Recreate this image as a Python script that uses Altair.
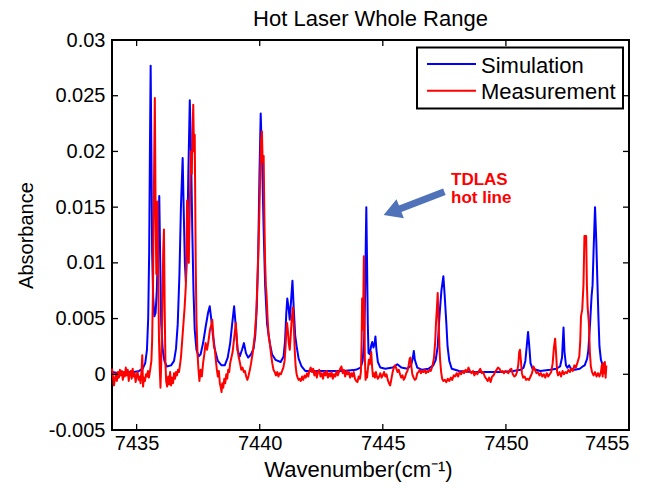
import altair as alt
import pandas as pd

# ---------------------------------------------------------------- data
# (wavenumber in cm^-1, absorbance)
sim_points = [
    (7434.00, 0.0002), (7434.30, 0.0001), (7434.60, 0.0002), (7434.90, 0.0002),
    (7435.10, 0.0003), (7435.25, 0.0005), (7435.35, 0.0010), (7435.42, 0.0022),
    (7435.47, 0.0050), (7435.51, 0.0110), (7435.54, 0.0200), (7435.57, 0.0277),
    (7435.60, 0.0200), (7435.63, 0.0110), (7435.67, 0.0070), (7435.72, 0.0052),
    (7435.77, 0.0055), (7435.82, 0.0075), (7435.87, 0.0115), (7435.92, 0.0160),
    (7435.96, 0.0100), (7436.00, 0.0045), (7436.06, 0.0022), (7436.13, 0.0012),
    (7436.22, 0.0007), (7436.40, 0.0008), (7436.52, 0.0012), (7436.60, 0.0023),
    (7436.67, 0.0045), (7436.74, 0.0090), (7436.80, 0.0150), (7436.87, 0.0194),
    (7436.91, 0.0150), (7436.96, 0.0100), (7437.00, 0.0083), (7437.05, 0.0110),
    (7437.10, 0.0180), (7437.16, 0.0246), (7437.21, 0.0200), (7437.26, 0.0130),
    (7437.31, 0.0075), (7437.36, 0.0040), (7437.43, 0.0022), (7437.52, 0.0016),
    (7437.60, 0.0018), (7437.70, 0.0028), (7437.80, 0.0042), (7437.90, 0.0055),
    (7437.97, 0.0061), (7438.03, 0.0050), (7438.10, 0.0035), (7438.18, 0.0022),
    (7438.30, 0.0012), (7438.45, 0.0008), (7438.58, 0.0008), (7438.70, 0.0015),
    (7438.80, 0.0028), (7438.88, 0.0045), (7438.96, 0.0061), (7439.02, 0.0045),
    (7439.10, 0.0022), (7439.19, 0.0016), (7439.28, 0.0022), (7439.36, 0.0028),
    (7439.44, 0.0019), (7439.53, 0.0015), (7439.65, 0.0018), (7439.75, 0.0023),
    (7439.82, 0.0035), (7439.88, 0.0060), (7439.94, 0.0110), (7439.99, 0.0180),
    (7440.04, 0.0234), (7440.10, 0.0190), (7440.16, 0.0130), (7440.22, 0.0080),
    (7440.30, 0.0045), (7440.41, 0.0028), (7440.50, 0.0018), (7440.64, 0.0013),
    (7440.85, 0.0011), (7440.97, 0.0016), (7441.03, 0.0030), (7441.08, 0.0055),
    (7441.12, 0.0068), (7441.17, 0.0060), (7441.22, 0.0049), (7441.27, 0.0065),
    (7441.33, 0.0084), (7441.38, 0.0060), (7441.44, 0.0035), (7441.50, 0.0025),
    (7441.58, 0.0014), (7441.70, 0.0007), (7441.85, 0.0003), (7442.30, 0.0003),
    (7442.80, 0.0003), (7443.40, 0.0003), (7443.90, 0.0004), (7444.10, 0.0006),
    (7444.18, 0.0012), (7444.24, 0.0030), (7444.28, 0.0070), (7444.31, 0.0120),
    (7444.33, 0.0150), (7444.36, 0.0100), (7444.39, 0.0045), (7444.42, 0.0019),
    (7444.47, 0.0018), (7444.53, 0.0026), (7444.57, 0.0029), (7444.62, 0.0024),
    (7444.67, 0.0028), (7444.70, 0.0034), (7444.74, 0.0022), (7444.80, 0.0011),
    (7444.90, 0.0006), (7445.10, 0.0005), (7445.40, 0.0006), (7445.59, 0.0009),
    (7445.75, 0.0006), (7446.00, 0.0005), (7446.15, 0.0008), (7446.22, 0.0015),
    (7446.26, 0.0021), (7446.30, 0.0013), (7446.40, 0.0006), (7446.60, 0.0004),
    (7446.85, 0.0005), (7447.05, 0.0008), (7447.15, 0.0013), (7447.23, 0.0025),
    (7447.30, 0.0052), (7447.38, 0.0075), (7447.46, 0.0088), (7447.51, 0.0072),
    (7447.58, 0.0046), (7447.63, 0.0025), (7447.70, 0.0012), (7447.80, 0.0005),
    (7448.10, 0.0003), (7448.60, 0.0002), (7449.20, 0.0002), (7449.80, 0.0002),
    (7450.30, 0.0003), (7450.60, 0.0004), (7450.72, 0.0006), (7450.79, 0.0012),
    (7450.85, 0.0026), (7450.90, 0.0038), (7450.95, 0.0025), (7451.00, 0.0010),
    (7451.08, 0.0005), (7451.40, 0.0003), (7451.80, 0.0004), (7452.05, 0.0005),
    (7452.20, 0.0007), (7452.28, 0.0015), (7452.34, 0.0042), (7452.38, 0.0020),
    (7452.44, 0.0008), (7452.50, 0.0006), (7452.57, 0.0008), (7452.64, 0.0005),
    (7452.80, 0.0004), (7453.00, 0.0005), (7453.12, 0.0007), (7453.20, 0.0008),
    (7453.30, 0.0014), (7453.35, 0.0022), (7453.42, 0.0046), (7453.48, 0.0070),
    (7453.52, 0.0080), (7453.56, 0.0110), (7453.62, 0.0150), (7453.67, 0.0120),
    (7453.72, 0.0080), (7453.76, 0.0050), (7453.80, 0.0025), (7453.86, 0.0013),
    (7453.93, 0.0008), (7454.07, 0.0005),
]

meas_points = [
    (7434.00, 0.0005), (7434.04, -0.0002), (7434.08, -0.0010), (7434.12, -0.0004),
    (7434.16, 0.0001), (7434.20, -0.0006), (7434.24, 0.0002), (7434.28, -0.0003),
    (7434.32, 0.0004), (7434.36, -0.0001), (7434.40, 0.0003), (7434.44, -0.0005),
    (7434.48, 0.0002), (7434.52, -0.0002), (7434.56, 0.0006), (7434.60, -0.0001),
    (7434.64, 0.0004), (7434.68, -0.0006), (7434.72, 0.0001), (7434.76, 0.0003),
    (7434.80, -0.0004), (7434.84, 0.0005), (7434.88, -0.0002), (7434.92, 0.0001),
    (7434.96, -0.0007), (7435.00, -0.0001), (7435.04, 0.0002), (7435.08, -0.0005),
    (7435.12, -0.0002), (7435.16, -0.0008), (7435.20, 0.0004), (7435.23, 0.0017),
    (7435.26, -0.0011), (7435.30, -0.0003), (7435.34, -0.0006), (7435.38, 0.0000),
    (7435.42, -0.0002), (7435.46, 0.0003), (7435.50, -0.0003), (7435.55, 0.0004),
    (7435.60, 0.0012), (7435.63, 0.0030), (7435.66, 0.0070), (7435.70, 0.0160),
    (7435.74, 0.0248), (7435.77, 0.0150), (7435.80, 0.0090), (7435.83, 0.0120),
    (7435.85, 0.0155), (7435.88, 0.0080), (7435.91, 0.0030), (7435.94, 0.0005),
    (7435.97, -0.0012), (7436.00, 0.0010), (7436.04, 0.0050), (7436.08, 0.0110),
    (7436.11, 0.0130), (7436.14, 0.0060), (7436.17, 0.0010), (7436.20, -0.0006),
    (7436.24, -0.0011), (7436.28, -0.0002), (7436.32, -0.0009), (7436.36, 0.0002),
    (7436.40, -0.0010), (7436.44, -0.0003), (7436.48, -0.0008), (7436.52, 0.0001),
    (7436.56, -0.0004), (7436.60, 0.0002), (7436.64, -0.0001), (7436.68, 0.0004),
    (7436.72, 0.0002), (7436.76, 0.0008), (7436.80, 0.0015), (7436.85, 0.0030),
    (7436.90, 0.0045), (7436.95, 0.0060), (7437.00, 0.0080), (7437.03, 0.0120),
    (7437.05, 0.0156), (7437.08, 0.0120), (7437.12, 0.0100), (7437.16, 0.0150),
    (7437.20, 0.0200), (7437.24, 0.0180), (7437.27, 0.0215), (7437.30, 0.0242),
    (7437.33, 0.0200), (7437.36, 0.0215), (7437.38, 0.0160), (7437.40, 0.0100),
    (7437.43, 0.0050), (7437.47, 0.0020), (7437.51, 0.0005), (7437.55, -0.0006),
    (7437.60, 0.0004), (7437.65, -0.0002), (7437.70, 0.0010), (7437.75, 0.0018),
    (7437.80, 0.0028), (7437.86, 0.0022), (7437.92, 0.0030), (7437.98, 0.0040),
    (7438.04, 0.0045), (7438.07, 0.0049), (7438.10, 0.0040), (7438.14, 0.0025),
    (7438.18, 0.0022), (7438.22, 0.0012), (7438.26, 0.0004), (7438.30, -0.0002),
    (7438.34, 0.0003), (7438.38, -0.0008), (7438.42, -0.0012), (7438.45, -0.0016),
    (7438.48, -0.0008), (7438.52, -0.0012), (7438.56, -0.0004), (7438.60, -0.0008),
    (7438.64, 0.0000), (7438.68, -0.0004), (7438.72, 0.0004), (7438.76, 0.0002),
    (7438.80, 0.0010), (7438.85, 0.0015), (7438.90, 0.0020), (7438.95, 0.0030),
    (7439.00, 0.0040), (7439.03, 0.0046), (7439.06, 0.0035), (7439.10, 0.0022),
    (7439.15, 0.0015), (7439.20, 0.0010), (7439.25, 0.0004), (7439.30, 0.0006),
    (7439.35, 0.0002), (7439.40, 0.0003), (7439.45, -0.0002), (7439.50, -0.0005),
    (7439.55, -0.0001), (7439.60, 0.0004), (7439.65, 0.0010), (7439.72, 0.0020),
    (7439.80, 0.0035), (7439.86, 0.0055), (7439.92, 0.0090), (7439.97, 0.0130),
    (7440.01, 0.0170), (7440.05, 0.0209), (7440.09, 0.0218), (7440.12, 0.0190),
    (7440.16, 0.0196), (7440.19, 0.0140), (7440.22, 0.0100), (7440.25, 0.0080),
    (7440.28, 0.0070), (7440.32, 0.0050), (7440.36, 0.0035), (7440.41, 0.0028),
    (7440.46, 0.0018), (7440.51, 0.0010), (7440.56, 0.0004), (7440.61, 0.0002),
    (7440.66, -0.0001), (7440.71, 0.0002), (7440.76, -0.0002), (7440.81, 0.0001),
    (7440.86, 0.0000), (7440.91, 0.0003), (7440.96, 0.0006), (7441.01, 0.0012),
    (7441.05, 0.0025), (7441.08, 0.0038), (7441.11, 0.0046), (7441.14, 0.0040),
    (7441.18, 0.0028), (7441.22, 0.0022), (7441.26, 0.0035), (7441.30, 0.0050),
    (7441.35, 0.0060), (7441.39, 0.0040), (7441.43, 0.0018), (7441.46, 0.0007),
    (7441.50, 0.0000), (7441.54, -0.0003), (7441.58, -0.0005), (7441.62, -0.0004),
    (7441.67, -0.0006), (7441.72, -0.0002), (7441.77, -0.0005), (7441.82, -0.0001),
    (7441.87, -0.0003), (7441.92, 0.0001), (7441.97, -0.0002), (7442.02, 0.0003),
    (7442.07, 0.0006), (7442.12, 0.0002), (7442.17, 0.0005), (7442.22, -0.0001),
    (7442.27, 0.0003), (7442.32, -0.0003), (7442.37, 0.0002), (7442.42, 0.0004),
    (7442.47, -0.0002), (7442.52, 0.0001), (7442.57, -0.0004), (7442.62, 0.0002),
    (7442.67, -0.0001), (7442.72, 0.0003), (7442.77, -0.0003), (7442.82, 0.0001),
    (7442.87, -0.0002), (7442.92, 0.0002), (7442.97, -0.0004), (7443.02, 0.0000),
    (7443.07, -0.0002), (7443.12, 0.0003), (7443.17, -0.0001), (7443.22, 0.0002),
    (7443.27, 0.0005), (7443.32, 0.0007), (7443.37, 0.0001), (7443.42, 0.0004),
    (7443.47, -0.0002), (7443.52, 0.0003), (7443.57, 0.0000), (7443.62, 0.0002),
    (7443.67, -0.0003), (7443.72, 0.0001), (7443.77, -0.0002), (7443.82, 0.0002),
    (7443.87, -0.0004), (7443.92, -0.0006), (7443.97, -0.0007), (7444.02, -0.0002),
    (7444.07, -0.0004), (7444.11, 0.0002), (7444.14, 0.0030), (7444.16, 0.0068),
    (7444.18, 0.0040), (7444.21, 0.0070), (7444.23, 0.0106), (7444.25, 0.0060),
    (7444.27, 0.0015), (7444.30, -0.0005), (7444.33, 0.0002), (7444.36, -0.0003),
    (7444.40, 0.0006), (7444.43, 0.0013), (7444.47, 0.0009), (7444.50, 0.0015),
    (7444.53, 0.0020), (7444.56, 0.0008), (7444.60, -0.0002), (7444.64, 0.0001),
    (7444.68, -0.0003), (7444.72, 0.0002), (7444.76, -0.0002), (7444.80, -0.0004),
    (7444.85, -0.0002), (7444.90, 0.0001), (7444.95, -0.0003), (7445.00, -0.0001),
    (7445.05, 0.0002), (7445.10, -0.0002), (7445.15, 0.0000), (7445.20, -0.0005),
    (7445.25, -0.0008), (7445.30, -0.0010), (7445.35, -0.0004), (7445.40, 0.0002),
    (7445.45, 0.0006), (7445.50, 0.0008), (7445.55, 0.0005), (7445.60, 0.0002),
    (7445.65, 0.0004), (7445.70, 0.0000), (7445.75, -0.0003), (7445.80, -0.0001),
    (7445.85, -0.0005), (7445.90, -0.0003), (7445.95, 0.0001), (7446.00, 0.0003),
    (7446.05, 0.0008), (7446.09, 0.0014), (7446.12, 0.0015), (7446.16, 0.0007),
    (7446.20, 0.0000), (7446.25, -0.0003), (7446.30, -0.0005), (7446.35, -0.0004),
    (7446.40, 0.0001), (7446.45, 0.0002), (7446.50, 0.0004), (7446.55, 0.0001),
    (7446.60, 0.0003), (7446.65, 0.0002), (7446.70, 0.0004), (7446.75, 0.0001),
    (7446.80, 0.0003), (7446.85, 0.0002), (7446.90, 0.0004), (7446.95, 0.0003),
    (7447.02, 0.0008), (7447.08, 0.0015), (7447.13, 0.0030), (7447.16, 0.0046),
    (7447.20, 0.0060), (7447.23, 0.0073), (7447.26, 0.0050), (7447.30, 0.0025),
    (7447.33, 0.0012), (7447.37, 0.0002), (7447.41, -0.0004), (7447.46, -0.0006),
    (7447.52, -0.0005), (7447.58, -0.0007), (7447.64, -0.0004), (7447.70, -0.0006),
    (7447.76, -0.0003), (7447.82, -0.0005), (7447.88, -0.0001), (7447.94, -0.0002),
    (7448.00, 0.0001), (7448.06, -0.0002), (7448.12, 0.0002), (7448.18, 0.0000),
    (7448.24, 0.0003), (7448.30, 0.0001), (7448.36, 0.0004), (7448.42, 0.0002),
    (7448.48, 0.0006), (7448.54, 0.0003), (7448.60, 0.0001), (7448.66, 0.0003),
    (7448.72, -0.0001), (7448.78, 0.0002), (7448.84, 0.0000), (7448.90, 0.0003),
    (7448.96, 0.0005), (7449.02, 0.0001), (7449.08, 0.0002), (7449.14, -0.0002),
    (7449.20, -0.0004), (7449.26, -0.0006), (7449.32, -0.0003), (7449.38, -0.0007),
    (7449.44, -0.0002), (7449.50, -0.0001), (7449.56, 0.0002), (7449.62, 0.0004),
    (7449.68, 0.0006), (7449.74, 0.0005), (7449.80, 0.0002), (7449.86, 0.0003),
    (7449.92, 0.0001), (7449.98, 0.0003), (7450.04, 0.0002), (7450.10, 0.0001),
    (7450.16, 0.0004), (7450.22, 0.0005), (7450.28, 0.0000), (7450.34, -0.0002),
    (7450.40, -0.0001), (7450.45, 0.0002), (7450.50, 0.0008), (7450.54, 0.0020),
    (7450.57, 0.0022), (7450.61, 0.0012), (7450.65, 0.0001), (7450.70, -0.0003),
    (7450.76, -0.0002), (7450.82, -0.0005), (7450.88, -0.0004), (7450.94, -0.0005),
    (7451.00, -0.0002), (7451.06, 0.0001), (7451.12, 0.0007), (7451.18, 0.0004),
    (7451.24, 0.0001), (7451.30, 0.0002), (7451.36, -0.0001), (7451.42, 0.0001),
    (7451.48, -0.0002), (7451.54, 0.0000), (7451.60, -0.0003), (7451.66, 0.0001),
    (7451.72, -0.0002), (7451.78, 0.0000), (7451.84, 0.0002), (7451.90, 0.0010),
    (7451.95, 0.0024), (7452.00, 0.0032), (7452.04, 0.0018), (7452.08, 0.0002),
    (7452.12, -0.0001), (7452.18, 0.0002), (7452.24, -0.0002), (7452.30, 0.0003),
    (7452.36, 0.0000), (7452.42, 0.0002), (7452.48, 0.0001), (7452.54, 0.0004),
    (7452.60, 0.0002), (7452.66, 0.0005), (7452.72, 0.0003), (7452.78, 0.0008),
    (7452.84, 0.0006), (7452.90, 0.0010), (7452.98, 0.0016), (7453.02, 0.0030),
    (7453.05, 0.0052), (7453.10, 0.0058), (7453.15, 0.0080), (7453.19, 0.0124),
    (7453.26, 0.0124), (7453.29, 0.0080), (7453.32, 0.0060), (7453.37, 0.0046),
    (7453.41, 0.0020), (7453.45, 0.0007), (7453.50, 0.0002), (7453.56, -0.0001),
    (7453.62, 0.0002), (7453.68, -0.0002), (7453.74, 0.0001), (7453.80, -0.0002),
    (7453.86, 0.0002), (7453.90, 0.0009), (7453.93, -0.0002), (7453.96, 0.0010),
    (7453.99, 0.0001), (7454.02, 0.0011), (7454.05, -0.0003), (7454.08, 0.0008),
]

series_names = ["Simulation", "Measurement"]
series_colors = ["#0000ff", "#ff0000"]

x_ticks = [7435, 7440, 7445, 7450, 7455]
y_ticks = [-0.005, 0, 0.005, 0.01, 0.015, 0.02, 0.025, 0.03]
x_domain = [7434, 7455]
y_domain = [-0.005, 0.03]

chart_title = "Hot Laser Whole Range"
x_title = "Wavenumber(cm\u207b\u00b9)"
y_title = "Absorbance"

note_lines = ["TDLAS", "hot line"]
note_wn = [7447.77]
note_abs = [0.0170]
arrow_wn = [7447.50, 7445.60]
arrow_abs = [0.01639, 0.01477]
arrow_head_wn = [7445.37]
arrow_head_abs = [0.01457]

# ---------------------------------------------------------------- layout
W, H = 517, 390
FONT = "Liberation Sans"
ARROW_COLOR = "#4f72b8"

xs = alt.Scale(domain=x_domain, nice=False, zero=False)
ys = alt.Scale(domain=y_domain, nice=False, zero=False)

# one shared axis definition per channel, used by every layer
x_axis = alt.Axis(
    values=x_ticks, format="d", title=x_title, titleFontSize=22,
    labelPadding=3, titleBaseline="alphabetic", titleY=46, titleX=246,
    titleAlign="center",
)
y_axis = alt.Axis(
    values=y_ticks, labelExpr="'' + datum.value", title=y_title,
    labelPadding=7, titleBaseline="alphabetic", titleX=-80,
)
X = alt.X("wn:Q", scale=xs, axis=x_axis)
Y = alt.Y("absorb:Q", scale=ys, axis=y_axis)


def frame(points, name):
    df = pd.DataFrame(points, columns=["wn", "absorb"])
    df["series"] = name
    return df


sim_df = frame(sim_points, series_names[0])
meas_df = frame(meas_points, series_names[1])

sim_line = alt.Chart(sim_df).mark_line(
    color=series_colors[0], strokeWidth=2, strokeJoin="round"
).encode(x=X, y=Y)

meas_line = alt.Chart(meas_df).mark_line(
    color=series_colors[1], strokeWidth=2, strokeJoin="round"
).encode(x=X, y=Y)

# annotation: arrow pointing to the hot line
arrow_df = pd.DataFrame({"wn": arrow_wn, "absorb": arrow_abs})
arrow_shaft = alt.Chart(arrow_df).mark_line(
    color=ARROW_COLOR, strokeWidth=7, strokeCap="butt"
).encode(x=X, y=Y)
head_df = pd.DataFrame({"wn": arrow_head_wn, "absorb": arrow_head_abs})
arrow_head = alt.Chart(head_df).mark_point(
    shape="triangle-up", filled=True, size=420, angle=249,
    color=ARROW_COLOR, opacity=1, strokeWidth=0,
).encode(x=X, y=Y)

# two-line label drawn as a single text block
note_df = pd.DataFrame(
    {"wn": note_wn, "absorb": note_abs, "txt": ["\n".join(note_lines)]}
)
note = alt.Chart(note_df).mark_text(
    font=FONT, fontSize=17, fontWeight="bold", color="#ff0000",
    align="left", baseline="alphabetic", lineBreak="\n", lineHeight=18.5,
).encode(x=X, y=Y, text="txt:N")

# inward-pointing ticks on all four sides of the box
xt_df = pd.DataFrame({"wn": x_ticks})
yt_df = pd.DataFrame({"absorb": y_ticks})
TICK = 6
tick_layers = []
for y0, y1 in [(H, H - TICK), (0, TICK)]:
    tick_layers.append(
        alt.Chart(xt_df).mark_rule(color="black", strokeWidth=1.3).encode(
            x=X, y=alt.value(y0), y2=alt.value(y1),
        )
    )
for x0, x1 in [(0, TICK), (W, W - TICK)]:
    tick_layers.append(
        alt.Chart(yt_df).mark_rule(color="black", strokeWidth=1.3).encode(
            y=Y, x=alt.value(x0), x2=alt.value(x1),
        )
    )

# legend box in the upper right corner
one = pd.DataFrame({"k": [0]})
legend_layers = [
    alt.Chart(one).mark_rect(fill="white", stroke="black", strokeWidth=2).encode(
        x=alt.value(305), x2=alt.value(511), y=alt.value(7.5), y2=alt.value(68.5)
    )
]
for i, (name, col) in enumerate(zip(series_names, series_colors)):
    ly = 24 + 26.7 * i
    legend_layers.append(
        alt.Chart(one).mark_rule(color=col, strokeWidth=2).encode(
            x=alt.value(315), x2=alt.value(364), y=alt.value(ly)
        )
    )
    legend_layers.append(
        alt.Chart(one).mark_text(
            text=name, font=FONT, fontSize=22, color="black",
            align="left", baseline="alphabetic",
        ).encode(x=alt.value(369), y=alt.value(ly + 8.7))
    )

# chart title centred over the box
title_layer = alt.Chart(one).mark_text(
    text=chart_title, font=FONT, fontSize=22, color="black",
    align="center", baseline="alphabetic",
).encode(x=alt.value(W / 2), y=alt.value(-14))

chart = alt.layer(
    sim_line, meas_line, arrow_shaft, arrow_head, note,
    *tick_layers, *legend_layers, title_layer,
).properties(
    width=W,
    height=H,
    padding={"left": 112, "top": 40, "right": 23, "bottom": 58},
    autosize=alt.AutoSizeParams(type="none"),
    background="white",
).configure_view(
    stroke="black", strokeWidth=2
).configure_axis(
    labelFont=FONT, labelFontSize=20, labelColor="black",
    titleFont=FONT, titleFontSize=20, titleFontWeight="normal", titleColor="black",
    grid=False, domain=False, ticks=False, tickSize=0,
)

chart.save("out.html", embed_options={"renderer": "svg", "actions": False})
